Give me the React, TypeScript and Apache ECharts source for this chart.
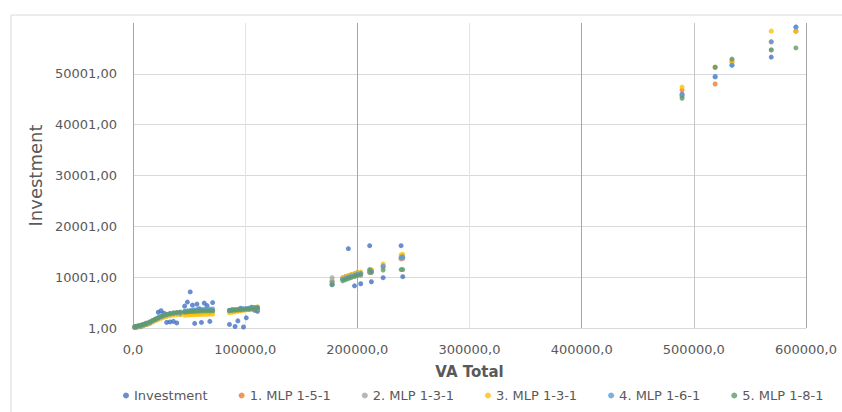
import React, { useEffect, useRef } from "react";
import * as echarts from "echarts";

const seriesNames = ["Investment", "1. MLP 1-5-1", "2. MLP 1-3-1", "3. MLP 1-3-1", "4. MLP 1-6-1", "5. MLP 1-8-1"];
const seriesColors = ["#4472C4", "#ED7D31", "#A5A5A5", "#FFC000", "#5B9BD5", "#5f9a6b"];

const vaTotal = [
  1500, 3000, 4500, 6500, 8500, 10500, 12500, 15000, 17500, 20000, 22500, 25000, 27500, 30000, 33000, 36000, 39000, 42000,
  46000, 48500, 51000, 53000, 55000, 57000, 59000, 61000, 63500, 66000, 68500, 71000,
  86000, 88500, 91000, 93500, 96000, 98500, 101000, 103500, 106000, 108500, 111000,
  177500, 187000, 189500, 192000, 194500, 197500, 200000, 203000, 211000, 212500, 223000, 239000, 240500,
  489500, 519000, 534000, 569000, 591000,
];

const investment = [
  80, 150, 300, 250, 450, 600, 700, 900, 1300, 1700, 3100, 3400, 2900, 1100, 1200, 1300, 1000, 2700,
  4300, 5100, 7100, 4500, 900, 4700, 3800, 1100, 4900, 4400, 1300, 5000,
  700, 3600, 300, 1400, 3900, 200, 2000, 3700, 4100, 3500, 3300,
  8600, 9700, 10100, 15600, 10300, 8300, 10900, 8700, 16200, 9100, 9900, 16200, 10100,
  46000, 49400, 51700, 53300, 59200,
];

const mlp151 = [
  200, 280, 360, 470, 600, 740, 900, 1120, 1380, 1650, 1920, 2180, 2400, 2580, 2750, 2880, 2970, 3030,
  3080, 3120, 3160, 3190, 3210, 3230, 3250, 3260, 3280, 3290, 3300, 3310,
  3400, 3450, 3500, 3550, 3600, 3650, 3700, 3750, 3800, 3850, 3900,
  9300, 9800, 10000, 10200, 10400, 10500, 10600, 10700, 10900, 11100, 12000, 13600, 13700,
  46800, 48000, 52300, 56300, 58400,
];

const mlp131a = [
  180, 260, 340, 450, 580, 720, 880, 1100, 1360, 1630, 1900, 2160, 2380, 2560, 2730, 2860, 2950, 3010,
  3000, 3040, 3080, 3110, 3130, 3150, 3170, 3180, 3200, 3210, 3220, 3230,
  3300, 3350, 3400, 3450, 3500, 3550, 3600, 3650, 3700, 3750, 3800,
  9900, 9900, 10100, 10300, 10500, 10700, 10800, 10900, 11200, 11300, 12100, 13700, 13800,
  45600, 51300, 52700, 54700, 58400,
];

const mlp131b = [
  100, 170, 250, 350, 470, 600, 750, 950, 1180, 1420, 1650, 1880, 2080, 2250, 2400, 2520, 2600, 2650,
  2500, 2540, 2580, 2610, 2630, 2650, 2670, 2680, 2700, 2710, 2720, 2730,
  3000, 3100, 3200, 3300, 3400, 3500, 3600, 3700, 3850, 4000, 4150,
  9200, 9900, 10100, 10300, 10500, 10700, 10900, 11000, 11300, 11500, 12600, 14400, 14500,
  47400, 51300, 52500, 58400, 58400,
];

const mlp161 = [
  150, 230, 320, 440, 580, 730, 900, 1130, 1400, 1680, 1950, 2200, 2420, 2600, 2760, 2880, 2960, 3000,
  3300, 3380, 3450, 3500, 3540, 3580, 3610, 3640, 3670, 3700, 3720, 3740,
  3500, 3560, 3620, 3680, 3740, 3800, 3860, 3920, 3980, 4040, 4100,
  9000, 9600, 9800, 10000, 10200, 10400, 10600, 10700, 11000, 11200, 12200, 13900, 14000,
  45800, 49500, 51700, 56300, 59200,
];

const mlp181 = [
  250, 330, 420, 530, 670, 820, 990, 1220, 1490, 1770, 2040, 2300, 2520, 2700, 2860, 2980, 3060, 3120,
  3150, 3200, 3240, 3270, 3300, 3320, 3340, 3360, 3380, 3390, 3400, 3410,
  3450, 3500, 3540, 3580, 3620, 3660, 3700, 3740, 3780, 3820, 3850,
  8500, 9300, 9500, 9700, 9900, 10100, 10300, 10400, 11500, 10900, 11400, 11500, 11500,
  45200, 51300, 52900, 54700, 55100,
];

const seriesValues = [investment, mlp151, mlp131a, mlp131b, mlp161, mlp181];

const FONT = "DejaVu Sans";
const TEXT = "#595959";

export default function App() {
  const ref = useRef<HTMLDivElement>(null);
  useEffect(() => {
    if (!ref.current) return;
    const chart = echarts.init(ref.current, null, { renderer: "svg" });
    chart.setOption({
      animation: false,
      backgroundColor: "#ffffff",
      textStyle: { fontFamily: FONT },
      graphic: [
        {
          type: "rect",
          shape: { x: 11, y: 15, width: 900, height: 600 },
          style: { fill: "none", stroke: "#d9d9d9", lineWidth: 1 },
          silent: true,
        },
      ],
      grid: { left: 133, right: 36, top: 23, bottom: 84, containLabel: false },
      legend: {
        data: seriesNames,
        left: 123,
        top: 389,
        padding: 0,
        itemGap: 31,
        itemWidth: 6,
        itemHeight: 6,
        icon: "circle",
        textStyle: { color: TEXT, fontSize: 13, fontFamily: FONT },
      },
      xAxis: {
        type: "value",
        min: 0,
        max: 600000,
        interval: 100000,
        name: "VA Total",
        nameLocation: "middle",
        nameGap: 36,
        nameTextStyle: { color: TEXT, fontSize: 15, fontWeight: "bold", fontFamily: FONT },
        axisLine: { show: true, lineStyle: { color: "#d9d9d9" } },
        axisTick: { show: false },
        axisLabel: {
          color: TEXT,
          fontSize: 13,
          margin: 15,
          fontFamily: FONT,
          formatter: (v: number) => v.toFixed(1).replace(".", ","),
        },
        splitLine: {
          show: true,
          lineStyle: {
            color: ["#a6a6a6", "#e3e3e3", "#a6a6a6", "#e3e3e3", "#a6a6a6", "#c6c6c6", "#a6a6a6"],
            width: 1,
          },
        },
      },
      yAxis: {
        type: "value",
        min: 1,
        max: 60000,
        interval: 10000,
        name: "Investment",
        nameLocation: "middle",
        nameGap: 87,
        nameTextStyle: { color: TEXT, fontSize: 18, fontFamily: FONT },
        axisLine: { show: false },
        axisTick: { show: false },
        axisLabel: {
          color: TEXT,
          fontSize: 13,
          margin: 16,
          fontFamily: FONT,
          showMaxLabel: false,
          formatter: (v: number) => v.toFixed(2).replace(".", ","),
        },
        splitLine: { show: true, showMaxLine: false, lineStyle: { color: "#d9d9d9", width: 1 } },
      },
      series: seriesNames.map((name, i) => ({
        name,
        type: "scatter",
        symbol: "circle",
        symbolSize: 5,
        itemStyle: { color: seriesColors[i] },
        data: vaTotal.map((x, j) => [x, seriesValues[i][j]]),
      })),
    });
    return () => chart.dispose();
  }, []);
  return <div ref={ref} style={{ position: "fixed", left: 0, top: 0, width: 842, height: 412 }} />;
}
